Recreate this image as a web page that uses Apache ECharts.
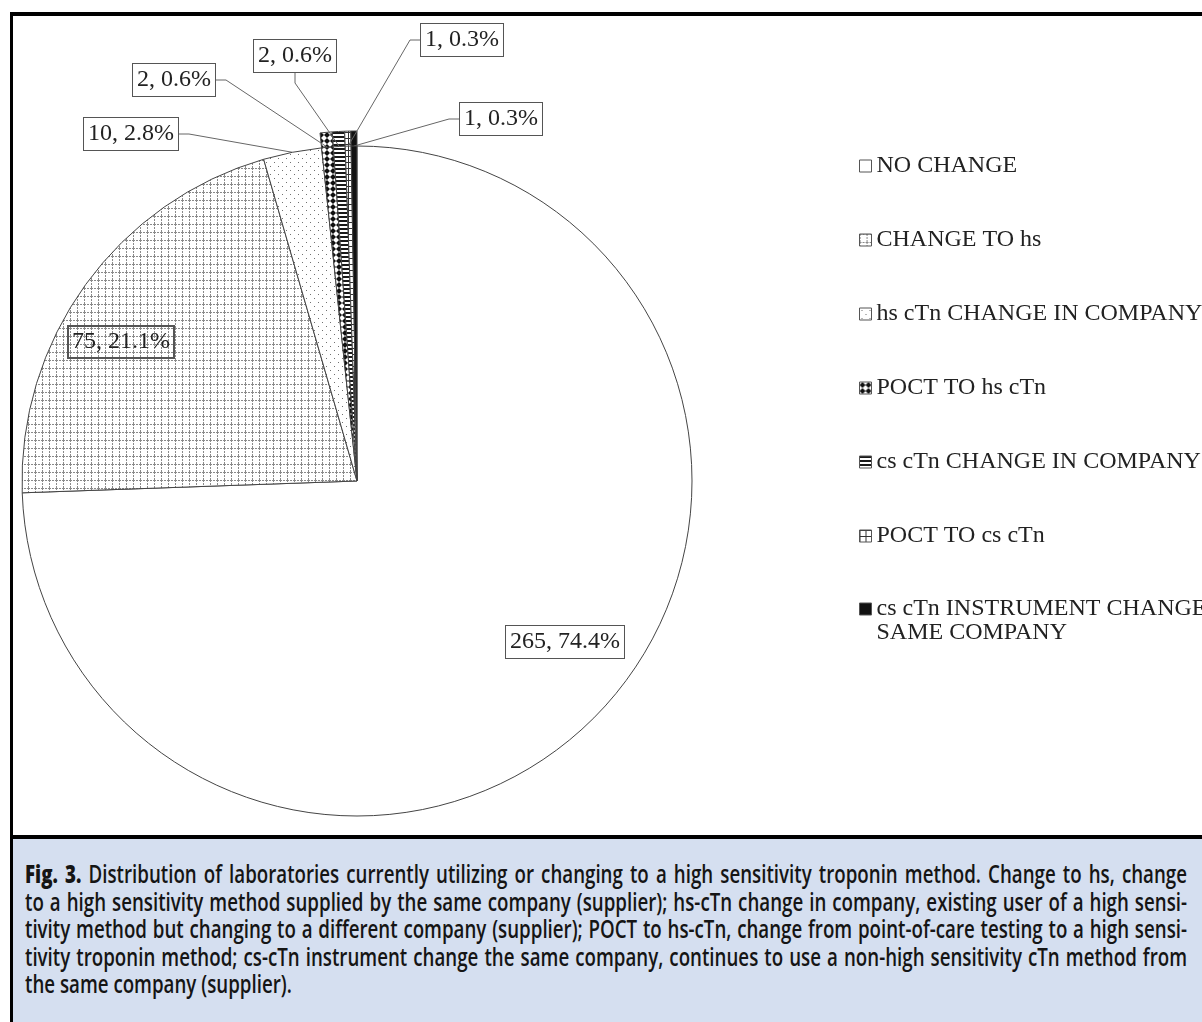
<!DOCTYPE html>
<html>
<head>
<meta charset="utf-8">
<script src="https://cdn.jsdelivr.net/npm/echarts@6/dist/echarts.min.js"></script>
<style>
  html, body { margin: 0; padding: 0; background: #fff; }
  body { width: 1202px; height: 1022px; position: relative; overflow: hidden; }
  #chart { position: absolute; left: 0; top: 0; width: 1202px; height: 835px; }
  .rule { position: absolute; background: #000; }
  #capbox { position: absolute; left: 13px; top: 839px; right: 0; bottom: 0; background: #d5dff0; }
  #captext { position: absolute; left: 25px; top: 860px; transform-origin: 0 0;
             font-family: "Open Sans", "Noto Sans", sans-serif; font-weight: 600; font-size: 25px; line-height: 27.5px; color: #151515; }
  #captext div { white-space: nowrap; text-align: justify; text-align-last: justify; }
  #captext div.last { text-align-last: left; }
  #captext b { font-weight: 800; }
  .measure { display: inline-block; }
</style>
</head>
<body>
<div id="chart"></div>
<div id="capbox"></div>
<div class="rule" style="left:10px;top:12px;width:1192px;height:4px;"></div>
<div class="rule" style="left:10px;top:12px;width:3px;height:1010px;"></div>
<div class="rule" style="left:10px;top:835px;width:1192px;height:4px;"></div>
<div id="captext">
  <div><span class="measure"><b>Fig. 3.</b> Distribution of laboratories currently utilizing or changing to a high sensitivity troponin method. Change to hs, change</span></div>
  <div><span class="measure">to a high sensitivity method supplied by the same company (supplier); hs-cTn change in company, existing user of a high sensi-</span></div>
  <div><span class="measure">tivity method but changing to a different company (supplier); POCT to hs-cTn, change from point-of-care testing to a high sensi-</span></div>
  <div><span class="measure">tivity troponin method; cs-cTn instrument change the same company, continues to use a non-high sensitivity cTn method from</span></div>
  <div class="last"><span class="measure">the same company (supplier).</span></div>
</div>
<script>
// Laboratory counts per troponin-method transition
const categories = [
  'NO CHANGE',
  'CHANGE TO hs',
  'hs cTn CHANGE IN COMPANY',
  'POCT TO hs cTn',
  'cs cTn CHANGE IN COMPANY',
  'POCT TO cs cTn',
  'cs cTn INSTRUMENT CHANGE SAME COMPANY'
];
const counts = [265, 75, 10, 2, 2, 1, 1];

// Label box anchors (centre points) for each slice, in chart pixels
const labelAnchors = [[565, 642], [121, 342], [131, 134], [174, 80], [295, 56], [462, 40], [501, 119]];

const total = counts.reduce((a, b) => a + b, 0);

// Caption: condense the sans face horizontally so the longest line spans the text column
(function fitCaption() {
  const box = document.getElementById('captext');
  const spans = Array.from(box.querySelectorAll('.measure'));
  const widest = Math.max(...spans.slice(0, 4).map(s => s.getBoundingClientRect().width));
  const column = 1162;
  const s = (column / widest) * 0.985;
  spans.forEach(sp => { sp.style.display = 'inline'; });
  box.style.width = (column / s) + 'px';
  box.style.transform = 'scaleX(' + s + ')';
})();

function pattern(w, h, draw) {
  const c = document.createElement('canvas');
  c.width = w; c.height = h;
  const ctx = c.getContext('2d');
  ctx.fillStyle = '#fff';
  ctx.fillRect(0, 0, w, h);
  draw(ctx);
  return { image: c, repeat: 'repeat' };
}

const fills = [
  '#ffffff',
  // dashed grid
  pattern(7, 8, ctx => {
    ctx.fillStyle = '#8a8a8a';
    for (let y = 0; y < 8; y++) if (y % 3 !== 2) ctx.fillRect(0, y, 1, 1);
    for (let x = 0; x < 7; x++) if (x % 3 !== 2) ctx.fillRect(x, 0, 1, 1);
  }),
  // sparse dots
  pattern(8, 8, ctx => {
    ctx.fillStyle = '#707070';
    ctx.fillRect(2, 2, 1, 1);
    ctx.fillRect(6, 6, 1, 1);
  }),
  // black diamonds
  pattern(6, 6, ctx => {
    ctx.fillStyle = '#111';
    ctx.beginPath();
    ctx.moveTo(3, 0); ctx.lineTo(6, 3); ctx.lineTo(3, 6); ctx.lineTo(0, 3); ctx.closePath();
    ctx.fill();
  }),
  // horizontal stripes
  pattern(4, 4, ctx => {
    ctx.fillStyle = '#1a1a1a';
    ctx.fillRect(0, 0, 4, 2);
  }),
  // coarse grid
  pattern(6, 6, ctx => {
    ctx.fillStyle = '#333';
    ctx.fillRect(0, 0, 6, 1);
    ctx.fillRect(0, 0, 1, 6);
  }),
  '#111111'
];

const isThin = v => v / total < 0.01;

const data = categories.map((name, i) => {
  const item = { name: name, value: counts[i], itemStyle: { color: fills[i] } };
  if (i < 2) {
    item.labelLine = { show: false };
    item.label = { backgroundColor: i === 1 ? 'transparent' : '#fff' };
  }
  return item;
});

// The thin slivers stand slightly proud of the disc
const proudData = categories.map((name, i) => ({
  name: name,
  value: counts[i],
  itemStyle: isThin(counts[i])
    ? { color: fills[i], borderColor: '#444', borderWidth: 1 }
    : { color: 'transparent', borderWidth: 0 }
}));

const legendText = { fontFamily: 'Liberation Serif', fontSize: 24, lineHeight: 24, color: '#222' };
const legendBase = {
  orient: 'vertical',
  left: 854,
  itemWidth: 12,
  icon: 'rect',
  selectedMode: false,
  itemStyle: { borderColor: '#555', borderWidth: 1 },
  textStyle: legendText
};

const chart = echarts.init(document.getElementById('chart'), null, { renderer: 'canvas' });

chart.setOption({
  animation: false,
  backgroundColor: 'transparent',
  legend: [
    Object.assign({}, legendBase, {
      top: 149,
      itemHeight: 12,
      itemGap: 50,
      data: categories.slice(0, 6)
    }),
    // two-line entry: square sits beside the first line
    Object.assign({}, legendBase, {
      top: 592,
      itemHeight: 36,
      icon: 'path://M0,0h12v12h-12z M0,36h0',
      formatter: name => name.replace('CHANGE SAME', 'CHANGE\nSAME'),
      data: categories.slice(6)
    })
  ],
  series: [{
    type: 'pie',
    name: 'main',
    z: 3,
    center: [357, 481],
    radius: 335,
    startAngle: 90,
    clockwise: true,
    avoidLabelOverlap: false,
    emphasis: { disabled: true },
    itemStyle: { borderColor: '#444', borderWidth: 1 },
    label: {
      show: true,
      position: 'outside',
      formatter: p => p.value + ', ' + (p.value / total * 100).toFixed(1) + '%',
      fontFamily: 'Liberation Serif',
      fontSize: 24,
      lineHeight: 24,
      color: '#222',
      backgroundColor: '#fff',
      borderColor: '#555',
      borderWidth: 1,
      padding: [4, 4, 4, 4]
    },
    labelLine: { show: true, length: 10, length2: 10, lineStyle: { color: '#666', width: 1 } },
    labelLayout: p => ({
      x: labelAnchors[p.dataIndex][0],
      y: labelAnchors[p.dataIndex][1],
      align: 'center',
      verticalAlign: 'middle'
    }),
    data: data
  }, {
    type: 'pie',
    name: 'slivers',
    z: 2,
    silent: true,
    center: [357, 481],
    radius: 350,
    startAngle: 90,
    clockwise: true,
    emphasis: { disabled: true },
    label: { show: false },
    labelLine: { show: false },
    data: proudData
  }]
});
</script>
</body>
</html>
